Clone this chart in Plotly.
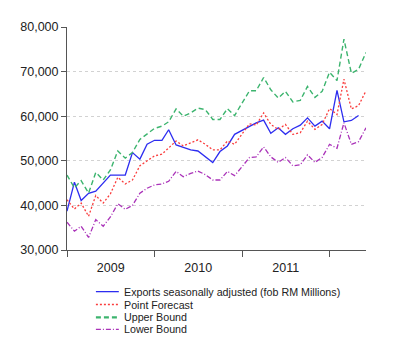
import plotly.graph_objects as go
import pandas as pd

months = pd.date_range("2009-01-01", "2012-06-01", freq="MS")

exports = [38700, 45200, 41100, 42700, 43200, 45000, 46800, 46800, 46800, 51850,
           50370, 53700, 54600, 54600, 56960, 53550, 52960, 52440, 52200, 51000,
           49620, 52070, 53330, 55930, 56800, 57800, 58500, 59110, 56150, 57400,
           55930, 57180, 58000, 59620, 57780, 58890, 57180, 65780, 58740, 59040,
           60150]
point_forecast = [41270, 39190, 40520, 37560, 42220, 40520, 42590, 46300, 44810, 45700,
                  48890, 50000, 51110, 51480, 52960, 54440, 53330, 54070, 54700, 53700,
                  52440, 52440, 54440, 53700, 55930, 58290, 58000, 60740, 58150, 57040,
                  58150, 55930, 56300, 58890, 57040, 58150, 61700, 60370, 68300, 61630,
                  62370, 65700]
upper_bound = [46800, 43930, 45560, 42740, 47400, 45700, 47930, 52220, 50590, 51850,
               54810, 56070, 57260, 57780, 58740, 61630, 60000, 60740, 61800, 61480,
               59260, 59260, 61700, 60150, 62960, 65700, 65700, 68670, 65930, 64070,
               65560, 63190, 63560, 66670, 64220, 65560, 69850, 68000, 77260, 69630,
               70520, 74300]
lower_bound = [36220, 34220, 35330, 32810, 36810, 35330, 37410, 40370, 39110, 40000,
               42740, 43850, 44590, 44810, 45410, 47630, 46440, 47180, 47700, 46890,
               45700, 45700, 47630, 46670, 48670, 50740, 50890, 53110, 50890, 49630,
               50740, 48890, 49110, 51330, 49630, 50740, 53700, 52820, 58520, 53700,
               54290, 57400]

names = ["Exports seasonally adjusted (fob RM Millions)", "Point Forecast",
         "Upper Bound", "Lower Bound"]
y_ticks = [30000, 40000, 50000, 60000, 70000, 80000]

styles = [
    dict(color="rgb(45,45,240)", width=1.3, dash="solid"),
    dict(color="rgb(250,60,60)", width=1.3, dash="2px,2px"),
    dict(color="rgb(60,180,110)", width=1.4, dash="5px,3px"),
    dict(color="rgb(170,50,185)", width=1.3, dash="5px,2px,1px,2px"),
]
series = [exports, point_forecast, upper_bound, lower_bound]

fig = go.Figure()
for name, vals, st in zip(names, series, styles):
    fig.add_trace(go.Scatter(x=months[:len(vals)], y=vals, mode="lines",
                             name=name, line=st, showlegend=False))

font_family = "Liberation Sans, Arial, sans-serif"
fig.update_layout(
    width=392, height=353,
    margin=dict(l=58, r=34, t=17, b=111),
    paper_bgcolor="white", plot_bgcolor="white",
    font=dict(family=font_family, color="#222"),
    xaxis=dict(
        type="date", range=["2009-01-01", "2012-06-01"],
        tick0="2009-01-01", dtick="M12", tickformat="%Y",
        ticklabelmode="period",
        showgrid=False, showline=True, linecolor="#555", linewidth=1,
        ticks="outside", ticklen=6, tickcolor="#555",
        tickfont=dict(size=12.5, color="#222"), zeroline=False,
    ),
    yaxis=dict(
        range=[30000, 80000], tickvals=y_ticks,
        ticktext=[f"{v:,}" for v in y_ticks],
        showgrid=True, gridcolor="#d2d2d2", griddash="dot", gridwidth=1,
        showline=True, linecolor="#555", linewidth=1,
        ticks="outside", ticklen=5, tickcolor="#555",
        tickfont=dict(size=12.5, color="#222"), zeroline=False,
    ),
)

# Manual legend (compact spacing like the reference)
row_px = [292, 305, 318, 330]
x0p, x1p, xtp = (95 - 66) / 300, (118 - 66) / 300, (121 - 66) / 300
for name, st, py in zip(names, styles, row_px):
    yp = (250 - py) / 225
    lw = 2.2 if st["dash"] == "5px,3px" else 1.3
    fig.add_shape(type="line", xref="paper", yref="paper", x0=x0p, x1=x1p,
                  y0=yp, y1=yp, line=dict(color=st["color"], width=lw, dash=st["dash"]))
    fig.add_annotation(xref="paper", yref="paper", x=xtp, y=yp, text=name,
                       showarrow=False, xanchor="left", yanchor="middle",
                       font=dict(size=10.7, color="#222", family=font_family))

fig.write_html("out.html")
